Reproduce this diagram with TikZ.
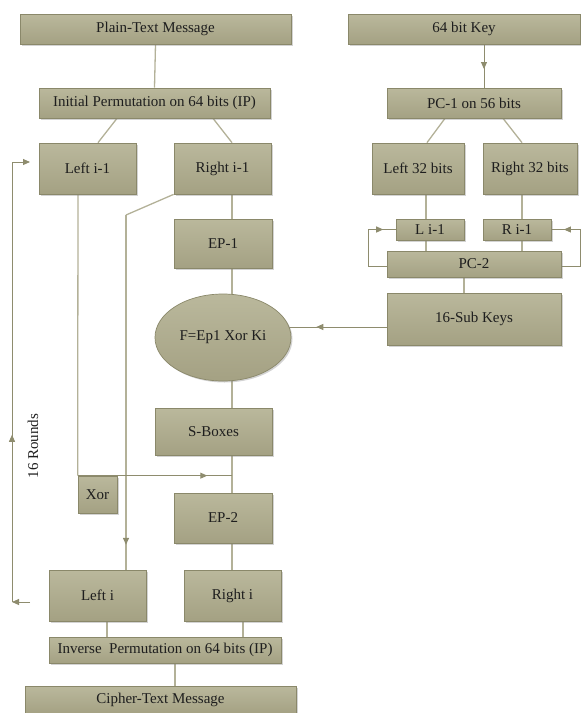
\documentclass[tikz,border=0pt]{standalone}
\usepackage{fontspec}
\setmainfont{Liberation Serif}
\usetikzlibrary{arrows.meta,shadows,shapes.geometric,decorations.markings}
\definecolor{boxtop}{HTML}{BAB89C}
\definecolor{boxbot}{HTML}{A4A183}
\definecolor{boxline}{HTML}{8A886A}
\definecolor{conn}{HTML}{B3B198}
\definecolor{arr}{HTML}{8E8C6E}
\definecolor{txt}{HTML}{1E1E1E}
\pgfdeclarelayer{bg}
\pgfsetlayers{bg,main}
\tikzset{
  x=1pt,y=-1pt,
  box/.style={draw=boxline, line width=0.7pt, top color=boxtop, bottom color=boxbot,
    drop shadow={shadow xshift=1.5pt, shadow yshift=-1.5pt, opacity=0.35, fill=gray},
    inner sep=0pt, text=txt, font=\fontsize{15}{17}\selectfont},
  ell/.style={box, ellipse},
  link/.style={draw=conn, line width=1.3pt},
  arrline/.style={draw=arr, line width=0.9pt},
  tip/.style={-{Triangle[length=7pt,width=6pt]}},
  midarrow/.style={postaction={decorate}, decoration={markings,
    mark=at position #1 with {\arrow[arr]{Triangle[length=7pt,width=6pt]}}}},
}
\begin{document}
\begin{tikzpicture}
\useasboundingbox (0,0) rectangle (581,713);
% nodes
\node[box, minimum width=271, minimum height=30] (plain) at (155.5,29) {Plain-Text Message};
\node[box, minimum width=231, minimum height=30] (ip) at (154.5,103) {Initial Permutation on 64 bits (IP)};
\node[box, minimum width=97, minimum height=51] (lim1) at (87.5,168.5) {Left i-1};
\node[box, minimum width=97, minimum height=51] (rim1) at (222.5,168.5) {Right i-1};
\node[box, minimum width=232, minimum height=30] (key) at (464,29) {64 bit Key};
\node[box, minimum width=174, minimum height=30] (pc1) at (474,103) {PC-1 on 56 bits};
\node[box, minimum width=92, minimum height=51] (l32) at (418,168.5) {Left 32 bits};
\node[box, minimum width=94, minimum height=51] (r32) at (530,168.5) {Right 32 bits};
\node[box, minimum width=68, minimum height=21] (li1) at (430,229.5) {L i-1};
\node[box, minimum width=68, minimum height=21] (ri1) at (517,229.5) {R i-1};
\node[box, minimum width=174, minimum height=26] (pc2) at (474,264) {PC-2};
\node[box, minimum width=174, minimum height=52] (sub) at (474,319) {16-Sub Keys};
\node[box, minimum width=98, minimum height=49] (ep1) at (223,243.5) {EP-1};
\node[ell, minimum width=136, minimum height=87] (f) at (223,337.5) {F=Ep1 Xor Ki};
\node[box, minimum width=117, minimum height=47] (sbox) at (213.5,431.5) {S-Boxes};
\node[box, minimum width=39, minimum height=37] (xor) at (97.5,494.5) {Xor};
\node[box, minimum width=98, minimum height=50] (ep2) at (223,518) {EP-2};
\node[box, minimum width=97, minimum height=51] (lefti) at (97.5,595.5) {Left i};
\node[box, minimum width=97, minimum height=51] (righti) at (232.5,595.5) {Right i};
\node[box, minimum width=232, minimum height=26] (inv) at (165,650) {Inverse\ \ Permutation on 64 bits (IP)};
\node[box, minimum width=271, minimum height=28] (cipher) at (160.5,700) {Cipher-Text Message};
\node[rotate=90, text=txt, font=\fontsize{15}{17}\selectfont] (rounds) at (33,446) {16 Rounds};
\begin{pgfonlayer}{bg}
% connectors (left part)
\draw[link] (plain.south) -- (ip.north);
\draw[link] (ip.south -| 117,0) -- (lim1.north -| 98,0);
\draw[link] (ip.south -| 213,0) -- (rim1.north -| 232,0);
\draw[link] (rim1.south -| 232,0) -- (ep1.north -| 232,0);
\draw[link] (ep1.south -| 232,0) -- (f.center -| 232,0);
\draw[link] (f.center -| 232,0) -- (sbox.north -| 232,0);
\draw[link] (sbox.south -| 232,0) -- (ep2.north -| 232,0);
\draw[link] (ep2.south -| 232,0) -- (righti.north -| 232,0);
\draw[link] (lim1.south -| 78,0) -- (xor.north west);
\coordinate (bend) at (126,215);
\draw[link] (rim1.south west) -- (bend);
\draw[link, midarrow=0.93] (bend) -- (lefti.north -| bend);
\draw[link] (lefti.south -| 107,0) -- (inv.north -| 107,0);
\draw[link] (righti.south -| 243,0) -- (inv.north -| 243,0);
\draw[link] (inv.south -| 175,0) -- (cipher.north -| 175,0);
\draw[arrline, midarrow=0.84] (xor.north west) -- (xor.north -| 232,0);
% connectors (right part)
\draw[arrline, midarrow=0.57] (key.south -| 484,0) -- (pc1.north -| 484,0);
\draw[link] (pc1.south -| 445,0) -- (l32.north -| 427,0);
\draw[link] (pc1.south -| 503,0) -- (r32.north -| 522,0);
\draw[link] (l32.south -| 426,0) -- (li1.north -| 426,0);
\draw[link] (r32.south -| 522,0) -- (ri1.north -| 522,0);
\draw[link] (li1.south -| 426,0) -- (pc2.north -| 426,0);
\draw[link] (ri1.south -| 522,0) -- (pc2.north -| 522,0);
\draw[link] (pc2.south -| 464,0) -- (sub.north -| 464,0);
\coordinate (lp) at (368,266);
\coordinate (rp) at (580,266);
\draw[arrline, midarrow=0.85] (pc2.west |- lp) -- (lp) -- (lp |- li1) -- (li1.west);
\draw[arrline, midarrow=0.85] (pc2.east |- rp) -- (rp) -- (rp |- ri1) -- (ri1.east);
\draw[arrline, midarrow=0.43] (sub.west |- 0,327) -- (f.center |- 0,327);
% Loop
\coordinate (lb) at (30,602);
\coordinate (lc) at (12,602);
\coordinate (ld) at (12,162);
\coordinate (le) at (30,162);
\draw[arrline, tip] (lb) -- (lc);
\draw[arrline, midarrow=0.38] (lc) -- (ld);
\draw[arrline, tip] (ld) -- (le);
\end{pgfonlayer}
\end{tikzpicture}
\end{document}
